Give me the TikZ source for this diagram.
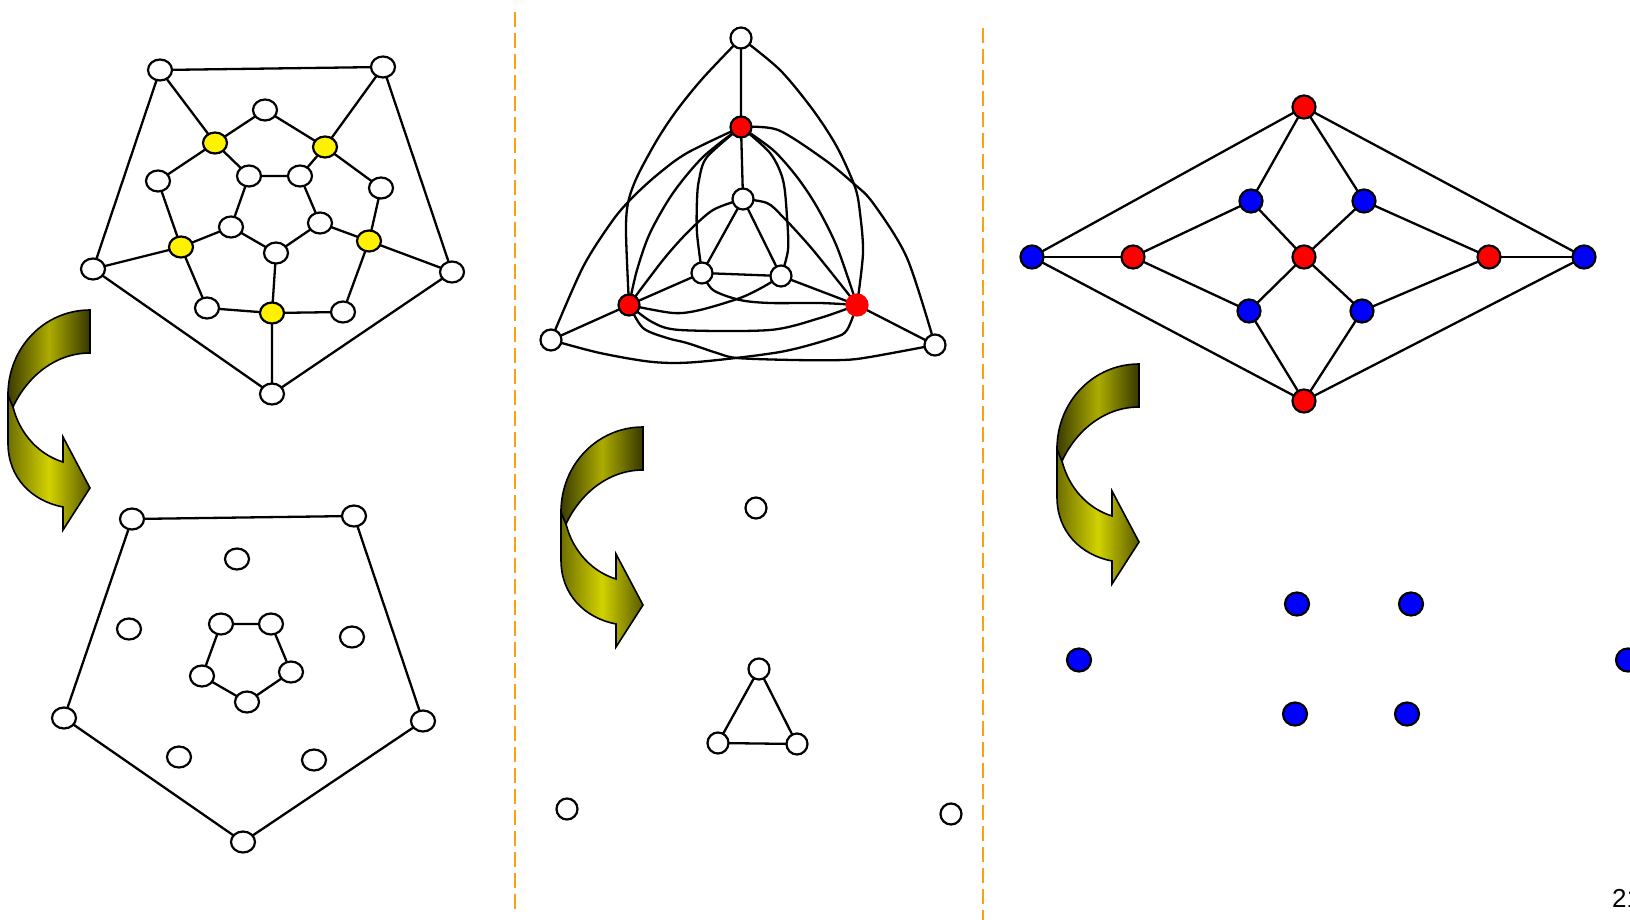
\documentclass[tikz,border=0pt]{standalone}
\usepackage{fontspec}
\setmainfont{Liberation Sans}
\usetikzlibrary{shapes.geometric}
\pgfdeclarelayer{bg}
\pgfdeclarelayer{edges}
\pgfsetlayers{bg,edges,main}
\definecolor{sepc}{RGB}{255,160,20}
\definecolor{upL}{RGB}{60,60,0}
\definecolor{upM}{RGB}{172,172,0}
\definecolor{upR}{RGB}{55,55,0}
\definecolor{loL}{RGB}{110,110,0}
\definecolor{loM}{RGB}{210,210,0}
\definecolor{loR}{RGB}{90,90,0}
\newcommand\bentarrow[3]{%
\begin{scope}[shift={(#1,#2)}]
\path[arrline, left color=loL, right color=loR, middle color=loM]
 (-82,85) coordinate (#3a) -- (-82,133) .. controls (-82,168) and (-58,191) .. (-27,197)
 -- (-27,220) -- (0,178) -- (-27,127) -- (-27,152)
 .. controls (-50,145) and (-70,125) .. (-77,97) -- cycle;
\path[arrline, left color=upL, right color=upR, middle color=upM]
 (0,0) coordinate (#3b) .. controls (-45,0) and (-82,37) .. (-82,85) -- (-77,97)
 .. controls (-63,67) and (-35,43) .. (0,43) -- cycle;
\end{scope}}
\begin{document}
\begin{tikzpicture}[x=1pt,y=-1pt,
  edge/.style={line width=2.3pt, draw=black},
  arrline/.style={draw=black, line width=1.6pt, line join=miter},
  wn/.style={ellipse, draw=black, line width=2.2pt, fill=white, minimum width=24pt, minimum height=21pt, inner sep=0pt},
  yn/.style={wn, fill=yellow},
  mn/.style={circle, draw=black, line width=2.2pt, fill=white, minimum size=21pt, inner sep=0pt},
  rn/.style={mn, fill=red},
  bn/.style={ellipse, draw=black, line width=2.2pt, minimum width=23pt, minimum height=23pt, inner sep=0pt},
  redn/.style={bn, fill=red},
  bluen/.style={bn, fill=blue},
  sepline/.style={draw=sepc, line width=2pt, dash pattern=on 15pt off 6pt},
]
\begin{pgfonlayer}{bg}
\fill[white] (0,0) rectangle (1630,920);
\end{pgfonlayer}
\useasboundingbox (0,0) rectangle (1630,920);

% separators
\coordinate (s1a) at (515,12); \coordinate (s1b) at (515,912);
\coordinate (s2a) at (983,28); \coordinate (s2b) at (983,920);
\draw[sepline] (s1a) -- (s1b);
\draw[sepline] (s2a) -- (s2b);

% ---------- Graph 1 (top left) ----------
\node[wn] (A) at (160,70) {};
\node[wn] (B) at (383,67) {};
\node[wn] (C) at (452,272) {};
\node[wn] (D) at (272,394) {};
\node[wn] (E) at (93,269) {};
\node[yn] (y1) at (215,143) {};
\node[wn] (mt) at (265,110) {};
\node[yn] (y2) at (325,147) {};
\node[wn] (wr) at (381,188) {};
\node[yn] (y3) at (369,241) {};
\node[wn] (wbr) at (343,312) {};
\node[yn] (y4) at (272,313) {};
\node[wn] (wbl) at (207,308) {};
\node[yn] (y5) at (181,247) {};
\node[wn] (wl) at (158,181) {};
\node[wn] (i1) at (249,176) {};
\node[wn] (i2) at (300,176) {};
\node[wn] (i3) at (320,223) {};
\node[wn] (i4) at (276,253) {};
\node[wn] (i5) at (231,227) {};
\begin{pgfonlayer}{edges}
\draw[edge] (A.center) -- (B.center) -- (C.center) -- (D.center) -- (E.center) -- cycle;
\draw[edge] (A.center) -- (y1.center) (B.center) -- (y2.center) (C.center) -- (y3.center)
  (D.center) -- (y4.center) (E.center) -- (y5.center);
\draw[edge] (y1.center) -- (mt.center) -- (y2.center) -- (wr.center) -- (y3.center) -- (wbr.center)
  -- (y4.center) -- (wbl.center) -- (y5.center) -- (wl.center) -- cycle;
\draw[edge] (i1.center) -- (i2.center) -- (i3.center) -- (i4.center) -- (i5.center) -- cycle;
\draw[edge] (y1.center) -- (i1.center) (y2.center) -- (i2.center) (y3.center) -- (i3.center)
  (y4.center) -- (i4.center) (y5.center) -- (i5.center);
\end{pgfonlayer}

% ---------- Graph 1 (bottom left) ----------
\node[wn] (P1) at (132,519) {};
\node[wn] (P2) at (354,516) {};
\node[wn] (P3) at (423,721) {};
\node[wn] (P4) at (243,842) {};
\node[wn] (P5) at (64,718) {};
\node[wn] (Q1) at (237,559) {};
\node[wn] (Q2) at (129,629) {};
\node[wn] (Q3) at (352,637) {};
\node[wn] (Q4) at (179,757) {};
\node[wn] (Q5) at (314,760) {};
\node[wn] (k1) at (221,624) {};
\node[wn] (k2) at (271,624) {};
\node[wn] (k3) at (291,672) {};
\node[wn] (k4) at (247,702) {};
\node[wn] (k5) at (202,676) {};
\begin{pgfonlayer}{edges}
\draw[edge] (P1.center) -- (P2.center) -- (P3.center) -- (P4.center) -- (P5.center) -- cycle;
\draw[edge] (k1.center) -- (k2.center) -- (k3.center) -- (k4.center) -- (k5.center) -- cycle;
\end{pgfonlayer}

% ---------- Graph 2 (top middle) ----------
\node[mn] (T) at (741,38) {};
\node[rn] (R1) at (741,127) {};
\node[mn] (W) at (743,199) {};
\node[mn] (Wl) at (702,273) {};
\node[mn] (Wr) at (781,276) {};
\node[rn] (R2) at (629,305) {};
\node[rn, draw=red] (R3) at (857,305) {};
\node[mn] (L) at (551,340) {};
\node[mn] (Rr) at (935,345) {};
\begin{pgfonlayer}{edges}
\draw[edge] (T.center) -- (R1.center) -- (W.center);
\draw[edge] (W.center) -- (Wl.center) -- (Wr.center) -- cycle;
\draw[edge] (L.center) -- (R2.center) -- (Wl.center);
\draw[edge] (Rr.center) -- (R3.center) -- (Wr.center);
\draw[edge] plot[smooth, tension=0.5] coordinates {(T.center) (703,78) (677,110) (657,140) (637,177) (628,203) (626,233) (R2.center)};
\draw[edge] plot[smooth, tension=0.5] coordinates {(R1.center) (687,153) (657,175) (633,197) (613,220) (583,267) (L.center)};
\draw[edge] plot[smooth, tension=0.5] coordinates {(T.center) (780,70) (813,110) (837,147) (855,187) (860,213) (863,253) (R3.center)};
\draw[edge] plot[smooth, tension=0.5] coordinates {(R1.center) (778,130) (825,160) (853,183) (873,203) (907,258) (Rr.center)};
\draw[edge] plot[smooth, tension=0.5] coordinates {(R1.center) (703,157) (673,193) (650,233) (637,270) (R2.center)};
\draw[edge] plot[smooth, tension=0.5] coordinates {(R1.center) (707,157) (699,180) (697,200) (697,233) (Wl.center)};
\draw[edge] plot[smooth, tension=0.5] coordinates {(R1.center) (770,153) (783,180) (787,217) (788,250) (Wr.center)};
\draw[edge] plot[smooth, tension=0.5] coordinates {(R1.center) (773,150) (797,177) (817,207) (837,247) (R3.center)};
\draw[edge] plot[smooth, tension=0.5] coordinates {(W.center) (713,210) (687,233) (663,260) (R2.center)};
\draw[edge] plot[smooth, tension=0.5] coordinates {(W.center) (767,203) (783,217) (813,250) (R3.center)};
\draw[edge] plot[smooth, tension=0.5] coordinates {(R2.center) (673,313) (700,310) (740,298) (763,287) (Wr.center)};
\draw[edge] plot[smooth, tension=0.5] coordinates {(Wl.center) (713,290) (740,300) (770,303) (820,303) (R3.center)};
\draw[edge] plot[smooth, tension=0.5] coordinates {(R2.center) (652,322) (680,330) (770,330) (820,318) (R3.center)};
\draw[edge] plot[smooth, tension=0.5] coordinates {(R2.center) (643,328) (667,338) (687,343) (717,353) (737,358) (793,360) (843,360) (870,357) (Rr.center)};
\draw[edge] plot[smooth, tension=0.5] coordinates {(L.center) (600,353) (653,362) (697,362) (780,352) (833,338) (847,330) (R3.center)};
\end{pgfonlayer}

% ---------- Graph 2 (bottom middle) ----------
\node[mn] (U0) at (756,508) {};
\node[mn] (U1) at (759,669) {};
\node[mn] (U2) at (718,743) {};
\node[mn] (U3) at (797,744) {};
\node[mn] (U4) at (567,809) {};
\node[mn] (U5) at (951,814) {};
\begin{pgfonlayer}{edges}
\draw[edge] (U1.center) -- (U2.center) -- (U3.center) -- cycle;
\end{pgfonlayer}

% ---------- Graph 3 (top right) ----------
\node[redn] (Ht) at (1304,107) {};
\node[bluen] (Hul) at (1251,201) {};
\node[bluen] (Hur) at (1364,201) {};
\node[bluen] (Hbl) at (1032,257) {};
\node[redn] (Hrl) at (1133,257) {};
\node[redn] (Hc) at (1304,257) {};
\node[redn] (Hrr) at (1489,257) {};
\node[bluen] (Hbr) at (1584,257) {};
\node[bluen] (Hll) at (1249,311) {};
\node[bluen] (Hlr) at (1362,311) {};
\node[redn] (Hb) at (1304,401) {};
\begin{pgfonlayer}{edges}
\draw[edge] (Ht.center) -- (Hbl.center) -- (Hb.center) -- (Hbr.center) -- cycle;
\draw[edge] (Ht.center) -- (Hul.center) (Ht.center) -- (Hur.center)
  (Hb.center) -- (Hll.center) (Hb.center) -- (Hlr.center);
\draw[edge] (Hbl.center) -- (Hrl.center) (Hrr.center) -- (Hbr.center);
\draw[edge] (Hrl.center) -- (Hul.center) (Hrl.center) -- (Hll.center)
  (Hrr.center) -- (Hur.center) (Hrr.center) -- (Hlr.center);
\draw[edge] (Hc.center) -- (Hul.center) (Hc.center) -- (Hur.center)
  (Hc.center) -- (Hll.center) (Hc.center) -- (Hlr.center);
\end{pgfonlayer}

% ---------- Graph 3 (bottom right) ----------
\node[bluen, minimum width=24pt] (G1) at (1079,660) {};
\node[bluen, minimum width=24pt] (G2) at (1297,604) {};
\node[bluen, minimum width=24pt] (G3) at (1411,604) {};
\node[bluen, minimum width=24pt] (G4) at (1295,714) {};
\node[bluen, minimum width=24pt] (G5) at (1407,714) {};
\node[bluen, minimum width=24pt] (G6) at (1628,660) {};

% ---------- bent arrows ----------
\bentarrow{90}{310}{ba}
\bentarrow{643}{427}{bb}
\bentarrow{1139}{364}{bc}

% page number
\node[anchor=base west, font=\fontsize{26}{30}\selectfont, inner sep=0pt] (pg) at (1612,907) {21};
\end{tikzpicture}
\end{document}
